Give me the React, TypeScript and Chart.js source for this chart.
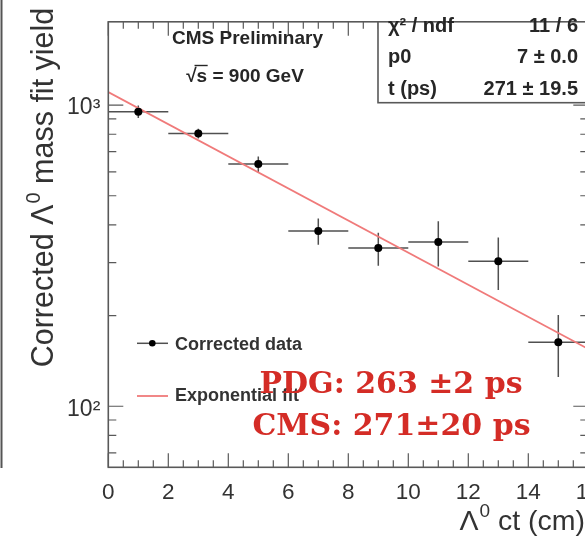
import { useEffect, useRef } from "react";
import { Chart, registerables } from "chart.js";

Chart.register(...registerables);

// ---- data ----
const ctBins = [1, 3, 5, 7, 9, 11, 13, 15];
const ctHalfWidth = [1, 1, 1, 1, 1, 1, 1, 1];
const correctedYield = [951, 804, 637, 382, 335, 351, 303, 163];
const yieldError = [45, 30, 38, 38, 42, 60, 60, 38];
const fitCt = [0, 16];
const fitYield = [1104, 155];
const xTickValues = [0, 2, 4, 6, 8, 10, 12, 14, 16];
const yTickValues = [100, 1000];
const yTickLabels = ["10²", "10³"];
const yMinorValues = [70, 80, 90, 200, 300, 400, 500, 600, 700, 800, 900];
const statsLabels = ["χ² / ndf", "p0", "t (ps)"];
const statsValues = ["11 / 6", "7 ± 0.0", "271 ± 19.5"];
const annotationLines = ["PDG: 263 ±2 ps", "CMS: 271±20 ps"];
const headerLines = ["CMS Preliminary", "√s = 900 GeV"];

const SANS = '"Liberation Sans", Arimo, Arial, sans-serif';
const SERIF = '"DejaVu Serif", serif';
const INK = "#262626";
const FRAME = "#595959";
const FIT_COLOR = "rgb(240,122,122)";

const rootPlugin = {
  id: "rootStyle",
  beforeDatasetsDraw(chart: any) {
    const { ctx, scales } = chart;
    const xs = scales.x;
    const ys = scales.y;
    ctx.save();
    ctx.strokeStyle = "#505050";
    ctx.lineWidth = 1.5;
    ctBins.forEach((c, i) => {
      const px = xs.getPixelForValue(c);
      const py = ys.getPixelForValue(correctedYield[i]);
      ctx.beginPath();
      ctx.moveTo(xs.getPixelForValue(c - ctHalfWidth[i]), py);
      ctx.lineTo(xs.getPixelForValue(c + ctHalfWidth[i]), py);
      ctx.moveTo(px, ys.getPixelForValue(correctedYield[i] + yieldError[i]));
      ctx.lineTo(px, ys.getPixelForValue(correctedYield[i] - yieldError[i]));
      ctx.stroke();
    });
    ctx.restore();
  },
  afterDraw(chart: any) {
    const { ctx, scales, chartArea } = chart;
    const xs = scales.x;
    const ys = scales.y;
    const { left, right, top, bottom } = chartArea;
    ctx.save();

    // outer crop border on the far left
    ctx.strokeStyle = "#555";
    ctx.lineWidth = 2;
    ctx.beginPath();
    ctx.moveTo(1.5, 0);
    ctx.lineTo(1.5, 468);
    ctx.stroke();

    // frame
    ctx.strokeStyle = FRAME;
    ctx.lineWidth = 1.6;
    ctx.strokeRect(left, top, right - left, bottom - top);

    // inward ticks
    ctx.lineWidth = 1.2;
    ctx.beginPath();
    for (let v = 0; v <= 16.001; v += 0.5) {
      const px = xs.getPixelForValue(v);
      const len = Math.abs(v % 2) < 1e-6 ? 14 : 7;
      ctx.moveTo(px, bottom);
      ctx.lineTo(px, bottom - len);
      ctx.moveTo(px, top);
      ctx.lineTo(px, top + len);
    }
    yTickValues.forEach((v) => {
      const py = ys.getPixelForValue(v);
      ctx.moveTo(left, py);
      ctx.lineTo(left + 15, py);
      ctx.moveTo(right, py);
      ctx.lineTo(right - 15, py);
    });
    yMinorValues.forEach((v) => {
      const py = ys.getPixelForValue(v);
      ctx.moveTo(left, py);
      ctx.lineTo(left + 8, py);
      ctx.moveTo(right, py);
      ctx.lineTo(right - 8, py);
    });
    ctx.stroke();

    // header text
    ctx.fillStyle = INK;
    ctx.textAlign = "center";
    ctx.textBaseline = "alphabetic";
    ctx.font = `bold 19px ${SANS}`;
    ctx.fillText(headerLines[0], 247.5, 44);
    const sqrtLine = headerLines[1];
    const w = ctx.measureText(sqrtLine).width;
    const x0 = 245 - w / 2;
    ctx.fillText(sqrtLine, 245, 81.5);
    const aW = ctx.measureText("√").width;
    const sW = ctx.measureText("s").width;
    ctx.strokeStyle = INK;
    ctx.lineWidth = 1.4;
    ctx.beginPath();
    ctx.moveTo(x0 + aW * 0.8, 65.5);
    ctx.lineTo(x0 + aW + sW + 0.5, 65.5);
    ctx.stroke();

    // stats box
    const bx = 378;
    const by = top;
    const bh = 102.7 - top;
    ctx.fillStyle = "#fff";
    ctx.fillRect(bx, by, right + 10 - bx, bh);
    ctx.strokeStyle = FRAME;
    ctx.lineWidth = 1.6;
    ctx.strokeRect(bx, by, right + 10 - bx, bh);
    ctx.fillStyle = INK;
    ctx.font = `bold 20px ${SANS}`;
    const baselines = [32, 63, 95];
    statsLabels.forEach((t, i) => {
      ctx.textAlign = "left";
      ctx.fillText(t, 388, baselines[i]);
      ctx.textAlign = "right";
      ctx.fillText(statsValues[i], 578, baselines[i]);
    });

    // legend
    const ds = chart.data.datasets;
    ctx.strokeStyle = "#505050";
    ctx.lineWidth = 1.5;
    ctx.beginPath();
    ctx.moveTo(137, 343.3);
    ctx.lineTo(168, 343.3);
    ctx.stroke();
    ctx.fillStyle = "#000";
    ctx.beginPath();
    ctx.arc(152.3, 343.3, 3.3, 0, Math.PI * 2);
    ctx.fill();
    ctx.strokeStyle = FIT_COLOR;
    ctx.lineWidth = 1.8;
    ctx.beginPath();
    ctx.moveTo(137, 396);
    ctx.lineTo(168, 396);
    ctx.stroke();
    ctx.fillStyle = "#333";
    ctx.font = `bold 18px ${SANS}`;
    ctx.textAlign = "left";
    ctx.fillText(ds[0].label, 175, 349.5);
    ctx.fillText(ds[1].label, 175, 401);

    // y-axis title (rotated) with superscript
    ctx.save();
    ctx.translate(53, 188);
    ctx.rotate(-Math.PI / 2);
    ctx.fillStyle = "#333";
    const fBig = `30.5px ${SANS}`;
    const fSup = `20px ${SANS}`;
    const p1 = "Corrected Λ";
    const p2 = "0";
    const p3 = " mass fit yield";
    ctx.font = fBig;
    const w1 = ctx.measureText(p1).width;
    const w3 = ctx.measureText(p3).width;
    ctx.font = fSup;
    const w2 = ctx.measureText(p2).width;
    const tot = w1 + w2 + w3;
    let cx = -tot / 2;
    ctx.textAlign = "left";
    ctx.font = fBig;
    ctx.fillText(p1, cx, 0);
    cx += w1;
    ctx.font = fSup;
    ctx.fillText(p2, cx + 1, -13);
    cx += w2 + 1;
    ctx.font = fBig;
    ctx.fillText(p3, cx, 0);
    ctx.restore();

    // x-axis title, right aligned
    {
      const q1 = "Λ";
      const q2 = "0";
      const q3 = " ct (cm)";
      const big = `28.5px ${SANS}`;
      const sup = `19px ${SANS}`;
      ctx.font = big;
      const a1 = ctx.measureText(q1).width;
      const a3 = ctx.measureText(q3).width;
      ctx.font = sup;
      const a2 = ctx.measureText(q2).width;
      let sx = 585 - (a1 + a2 + a3 + 1);
      ctx.fillStyle = "#333";
      ctx.textAlign = "left";
      ctx.font = big;
      ctx.fillText(q1, sx, 530);
      sx += a1 + 1;
      ctx.font = sup;
      ctx.fillText(q2, sx, 517);
      sx += a2;
      ctx.font = big;
      ctx.fillText(q3, sx, 530);
    }

    // red annotation
    ctx.fillStyle = "rgb(212,44,38)";
    ctx.font = `bold 30px ${SERIF}`;
    ctx.textAlign = "center";
    ctx.fillText(annotationLines[0], 391, 393);
    ctx.fillText(annotationLines[1], 391.5, 435);

    ctx.restore();
  },
};

export default function App() {
  const ref = useRef<HTMLCanvasElement | null>(null);
  useEffect(() => {
    if (!ref.current) return;
    const chart = new Chart(ref.current, {
      type: "scatter",
      data: {
        datasets: [
          {
            type: "scatter",
            label: "Corrected data",
            data: ctBins.map((x, i) => ({ x, y: correctedYield[i] })),
            pointRadius: 4,
            pointBackgroundColor: "#000",
            pointBorderColor: "#000",
            pointBorderWidth: 0,
            showLine: false,
            order: 0,
          } as any,
          {
            type: "line",
            label: "Exponential fit",
            data: fitCt.map((x, i) => ({ x, y: fitYield[i] })),
            borderColor: FIT_COLOR,
            borderWidth: 1.7,
            pointRadius: 0,
            tension: 0,
            fill: false,
            order: 1,
          } as any,
        ],
      },
      options: {
        responsive: false,
        animation: false,
        devicePixelRatio: 1,
        layout: { padding: { left: 0, top: 9, right: 31.7, bottom: 0 } },
        plugins: { legend: { display: false }, tooltip: { enabled: false } },
        scales: {
          x: {
            type: "linear",
            position: "bottom",
            min: 0,
            max: 16,
            grid: { display: false, drawTicks: false },
            border: { display: false },
            afterBuildTicks: (s: any) => {
              s.ticks = xTickValues.map((v) => ({ value: v }));
            },
            afterFit: (s: any) => {
              s.height = 69.7;
            },
            ticks: {
              font: { family: SANS, size: 22.5 },
              color: "#333",
              padding: 12,
              maxRotation: 0,
              autoSkip: false,
            },
          },
          y: {
            type: "logarithmic",
            position: "left",
            min: 62.7,
            max: 1890,
            grid: { display: false, drawTicks: false },
            border: { display: false },
            afterBuildTicks: (s: any) => {
              s.ticks = yTickValues.map((v) => ({ value: v }));
            },
            afterFit: (s: any) => {
              s.width = 108.3;
            },
            ticks: {
              font: { family: SANS, size: 23 },
              color: "#333",
              padding: 8,
              labelOffset: 3,
              autoSkip: false,
              callback: (v: any) => {
                const i = yTickValues.indexOf(Number(v));
                return i >= 0 ? yTickLabels[i] : "";
              },
            },
          },
        },
      },
      plugins: [rootPlugin],
    } as any);
    return () => chart.destroy();
  }, []);
  return (
    <div
      style={{
        position: "absolute",
        left: 0,
        top: 0,
        width: 585,
        height: 537,
        overflow: "hidden",
        background: "#fff",
      }}
    >
      <canvas ref={ref} width={620} height={537} style={{ display: "block" }} />
    </div>
  );
}
